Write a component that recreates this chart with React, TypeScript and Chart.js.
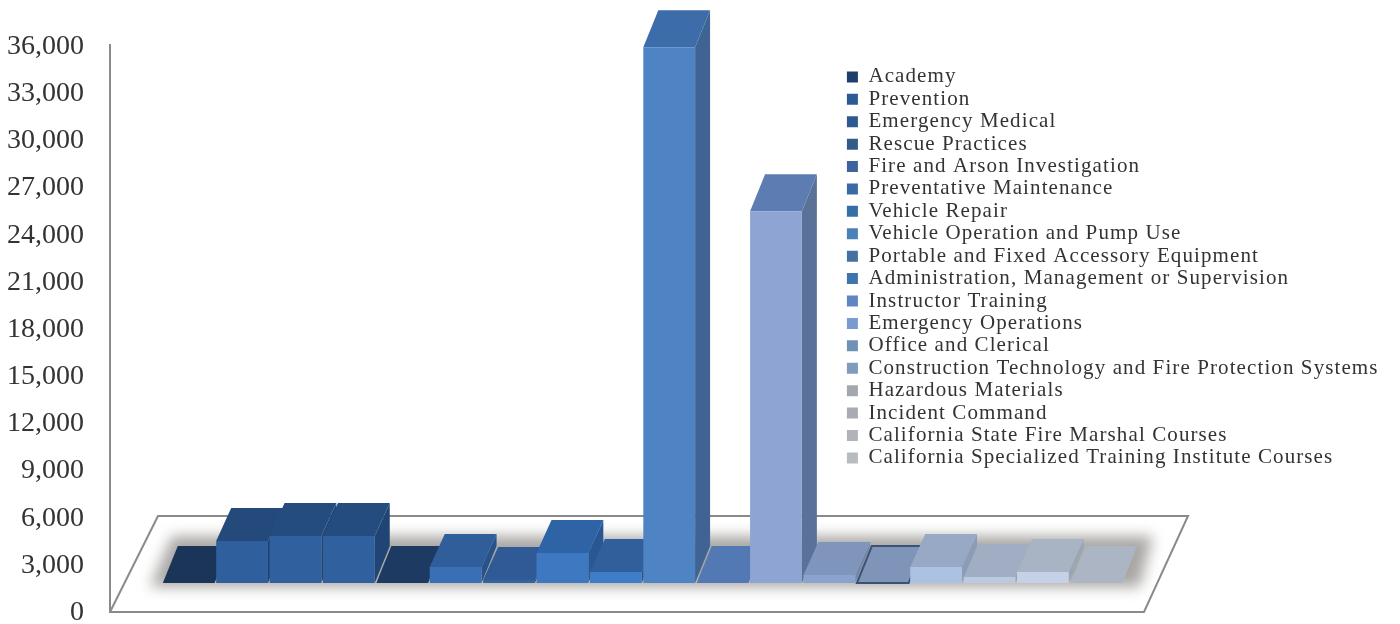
import React, { useEffect, useRef } from "react";
import { Chart, registerables } from "chart.js";

Chart.register(...registerables);

const seriesNames = [
  "Academy", "Prevention", "Emergency Medical", "Rescue Practices",
  "Fire and Arson Investigation", "Preventative Maintenance", "Vehicle Repair",
  "Vehicle Operation and Pump Use", "Portable and Fixed Accessory Equipment",
  "Administration, Management or Supervision", "Instructor Training",
  "Emergency Operations", "Office and Clerical",
  "Construction Technology and Fire Protection Systems", "Hazardous Materials",
  "Incident Command", "California State Fire Marshal Courses",
  "California Specialized Training Institute Courses",
];
const seriesValues = [0, 2670, 2990, 2990, 0, 1020, 190, 1910, 700, 34070, 0, 23650, 510, 0, 1020, 380, 700, 0];
const frontColours = [
  "#1f3f6b", "#2f5f9c", "#30609e", "#30609e", "#23466f", "#3a6fb6", "#32649f", "#3d78c0", "#3f7dc6",
  "#4f84c4", "#5a80bb", "#8ea4d2", "#8ba4cf", "#8095b8", "#abc2e2", "#bccadf", "#c4d1e6", "#adb7c6",
];
const topColours = [
  "#1a3558", "#234a7b", "#244c7f", "#244c7f", "#1c3a62", "#2f5e9b", "#2f5a96", "#2e63a5", "#315f9c",
  "#3c6caa", "#5279b3", "#5c7cb2", "#7f95bb", "#7e94b8", "#97a9c4", "#a0adc2", "#a8b3c4", "#abb5c4",
];
const sideColours = [
  "#16304f", "#1f4371", "#204575", "#204575", "#18335a", "#28528a", "#285086", "#285894", "#2a548c",
  "#3f6493", "#466a9f", "#5a7297", "#7086ab", "#4f6388", "#8a9cb8", "#93a1b6", "#9aa6b8", "#a0aaba",
];
const markerColours = [
  "#1f3f6b", "#2c5a96", "#2f5a90", "#345a88", "#3c649c", "#3a6aa5", "#356fa8", "#4a82b8", "#44719f",
  "#3d76ab", "#5f86c0", "#7a9bd0", "#6f91b4", "#7f9cbc", "#a4a8ae", "#a8acb2", "#b0b3b8", "#b8bbc0",
];
const outlinedSeries = ["Construction Technology and Fire Protection Systems"];
const yMax = 36000;
const yStep = 3000;

const FONT = '"Liberation Serif", serif';

const scenery = {
  id: "scenery",
  afterLayout(chart: any) {
    const l = chart.legend;
    if (l) {
      l.left = 845.5;
      l.right = 1395;
      l.top = 65;
      l.bottom = 483;
      if (!l.__spaced) {
        l.__spaced = true;
        const orig = l.draw;
        l.draw = function (...args: any[]) {
          const c = this.ctx;
          c.letterSpacing = "1.1px";
          orig.apply(this, args);
          c.letterSpacing = "0px";
        };
      }
    }
  },
  beforeDatasetsDraw(chart: any) {
    const { ctx } = chart;
    ctx.save();
    // floor plate shadow
    ctx.save();
    ctx.filter = "blur(7px)";
    ctx.fillStyle = "#a9a7a4";
    ctx.beginPath();
    ctx.moveTo(150, 587);
    ctx.lineTo(1140, 587);
    ctx.lineTo(1153, 536);
    ctx.lineTo(172, 536);
    ctx.closePath();
    ctx.fill();
    ctx.restore();
    // floor plate + wall line
    ctx.strokeStyle = "#8a8a8a";
    ctx.lineWidth = 2;
    ctx.beginPath();
    ctx.moveTo(110, 44);
    ctx.lineTo(110, 612);
    ctx.lineTo(1144, 612);
    ctx.lineTo(1188, 516);
    ctx.lineTo(158, 516);
    ctx.lineTo(110, 612);
    ctx.stroke();
    // extrusion of every bar, left to right
    chart.data.datasets.forEach((ds: any, i: number) => {
      const el = chart.getDatasetMeta(i).data[0];
      const v = ds.data[0];
      const half = el.width / 2;
      const left = el.x - half;
      const right = el.x + half;
      const dx = 15;
      const dy = v === 0 || v > 5000 ? 37 : 33;
      ctx.fillStyle = sideColours[i];
      ctx.beginPath();
      ctx.moveTo(right, el.y);
      ctx.lineTo(right + dx, el.y - dy);
      ctx.lineTo(right + dx, el.base - 37);
      ctx.lineTo(right, el.base);
      ctx.closePath();
      ctx.fill();
      ctx.fillStyle = topColours[i];
      ctx.beginPath();
      ctx.moveTo(left, el.y);
      ctx.lineTo(left + dx, el.y - dy);
      ctx.lineTo(right + dx, el.y - dy);
      ctx.lineTo(right, el.y);
      ctx.closePath();
      ctx.fill();
      if (outlinedSeries.includes(ds.label)) {
        ctx.strokeStyle = "#3d5273";
        ctx.lineWidth = 2;
        ctx.stroke();
      }
    });
    ctx.restore();
  },
};

export default function App() {
  const ref = useRef<HTMLCanvasElement>(null);
  useEffect(() => {
    const chart = new Chart(ref.current as HTMLCanvasElement, {
      type: "bar",
      data: {
        labels: [""],
        datasets: seriesNames.map((name, i) => ({
          label: name,
          data: [seriesValues[i]],
          backgroundColor: frontColours[i],
          borderWidth: 0,
          yAxisID: "yBars",
          categoryPercentage: 1,
          barPercentage: 0.97,
        })),
      },
      options: {
        animation: false,
        responsive: false,
        layout: { padding: { top: 44, bottom: 14, right: 277, left: 0 } },
        scales: {
          x: { display: false },
          y: {
            min: 0,
            max: yMax,
            position: "left",
            afterFit(scale: any) {
              scale.width = 162;
              scale.paddingTop = 0;
              scale.paddingBottom = 0;
            },
            border: { display: false },
            grid: { display: false },
            ticks: {
              stepSize: yStep,
              padding: 70,
              labelOffset: 2.5,
              autoSkip: false,
              color: "#333333",
              font: { family: FONT, size: 28 },
              callback: (v: any) => Number(v).toLocaleString("en-US"),
            },
          },
          yBars: {
            axis: "y",
            position: "left",
            display: false,
            min: -1716,
            max: yMax - 1716,
          },
        },
        plugins: {
          tooltip: { enabled: false },
          legend: {
            display: true,
            position: "chartArea",
            align: "start",
            labels: {
              boxWidth: 11,
              boxHeight: 11,
              padding: 1.41,
              color: "#333333",
              font: { family: FONT, size: 21 },
              generateLabels: (c: any) =>
                Chart.defaults.plugins.legend.labels.generateLabels(c).map((item: any, i: number) => ({
                  ...item,
                  fillStyle: markerColours[i],
                  strokeStyle: markerColours[i],
                })),
            },
          },
        },
      },
      plugins: [scenery],
    } as any);
    return () => chart.destroy();
  }, []);
  return (
    <div style={{ position: "fixed", left: 0, top: 0, width: 1400, height: 624, background: "#fff" }}>
      <canvas ref={ref} width={1400} height={624} style={{ display: "block" }} />
    </div>
  );
}
